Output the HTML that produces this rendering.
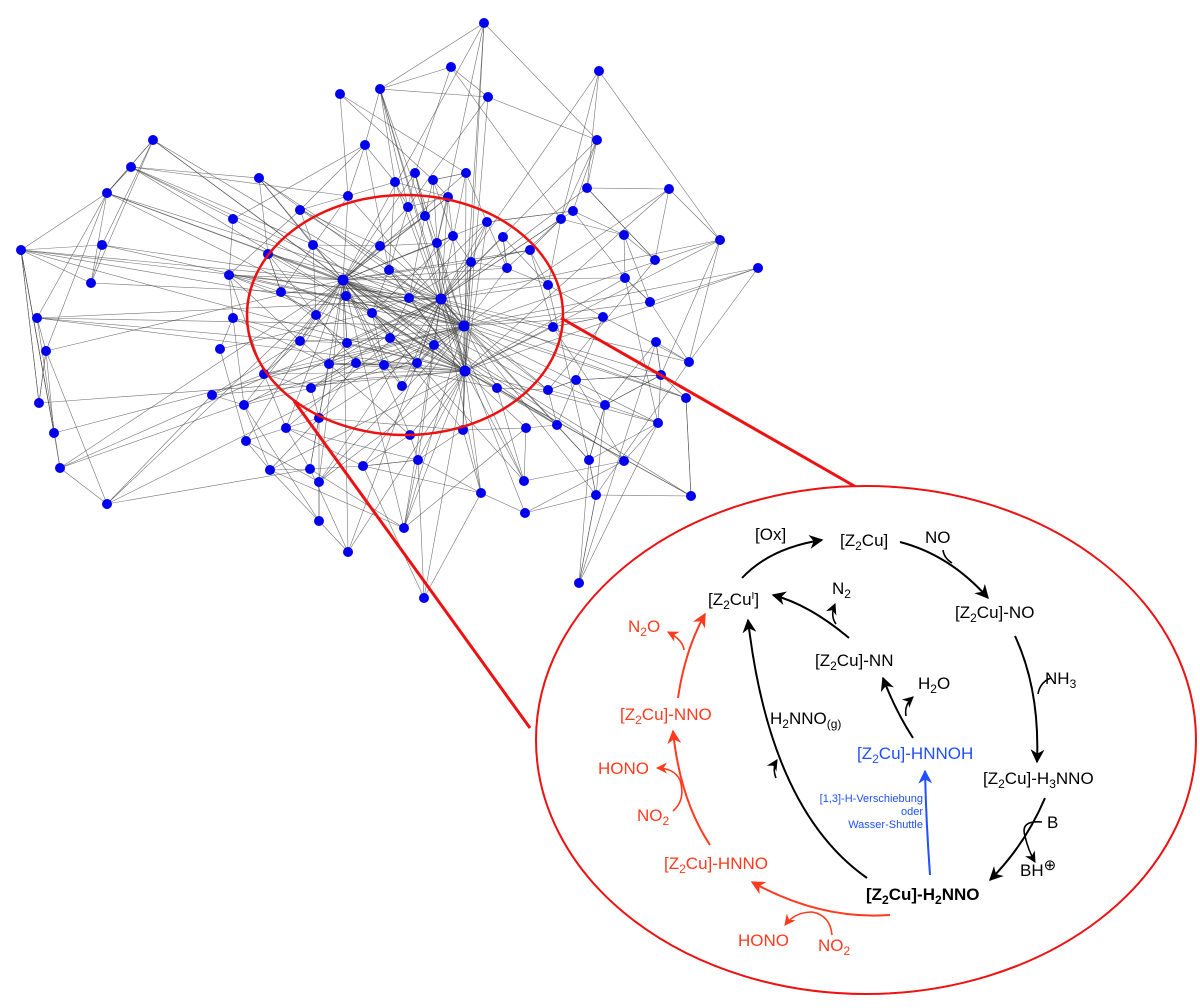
<!DOCTYPE html>
<html><head><meta charset="utf-8"><style>
html,body{margin:0;padding:0;background:#fff;width:1200px;height:1008px;overflow:hidden}
svg{display:block}
text{font-family:"Liberation Sans",Arial,sans-serif}
</style></head><body>
<svg id="s" width="1200" height="1008" viewBox="0 0 1200 1008" xmlns="http://www.w3.org/2000/svg">
<defs>
<marker id="ak" viewBox="0 0 10 10" refX="9" refY="5" markerWidth="7" markerHeight="7" orient="auto"><path d="M0,0 L10,5 L0,10 L3,5z" fill="#000"/></marker>
<marker id="ar" viewBox="0 0 10 10" refX="9" refY="5" markerWidth="7" markerHeight="7" orient="auto"><path d="M0,0 L10,5 L0,10 L3,5z" fill="#ff3b1f"/></marker>
<marker id="ab" viewBox="0 0 10 10" refX="9" refY="5" markerWidth="7" markerHeight="7" orient="auto"><path d="M0,0 L10,5 L0,10 L3,5z" fill="#1f4fff"/></marker>
</defs>
<g id="edges" stroke="#444" stroke-width="0.6" stroke-opacity="0.75"></g>
<g id="nodes" fill="#0000ee"></g>
<ellipse cx="405" cy="315" rx="158" ry="120" fill="none" stroke="#ee1111" stroke-width="2.5"/>
<line x1="561" y1="318" x2="856" y2="487" stroke="#ee1111" stroke-width="3"/>
<line x1="294" y1="401" x2="530" y2="728" stroke="#ee1111" stroke-width="3"/>
<ellipse cx="866" cy="740" rx="330" ry="254" fill="#fff" stroke="#ee1111" stroke-width="2"/>

<g fill="none" stroke="#000" stroke-width="2">
<path d="M742,578 Q770,548 822,540" marker-end="url(#ak)"/>
<path d="M900,542 Q950,555 988,598" marker-end="url(#ak)"/>
<path d="M943,550 Q944,558 952,563" stroke-width="1.6"/>
<path d="M1015,636 Q1040,690 1037,762" marker-end="url(#ak)"/>
<path d="M1051,678 Q1040,682 1038,694" stroke-width="1.6"/>
<path d="M1045,798 Q1025,845 990,880" marker-end="url(#ak)"/>
<path d="M1042,822 Q1020,820 1025,836 Q1028,850 1035,862" stroke-width="1.6" marker-end="url(#ak)"/>
<path d="M867,878 Q770,810 748,620" marker-end="url(#ak)"/>
<path d="M776,778 Q772,768 777,760" stroke-width="1.6" marker-end="url(#ak)"/>
<path d="M913,738 Q895,710 883,678" marker-end="url(#ak)"/>
<path d="M906,716 Q904,705 913,697" stroke-width="1.6" marker-end="url(#ak)"/>
<path d="M849,638 Q810,605 773,595" marker-end="url(#ak)"/>
<path d="M836,624 Q830,616 835,604" stroke-width="1.6" marker-end="url(#ak)"/>
</g>
<g fill="none" stroke="#1f4fff" stroke-width="2"><path d="M930,875 Q926,820 925,771" marker-end="url(#ab)"/></g>
<g fill="none" stroke="#ff3b1f" stroke-width="2">
<path d="M890,915 Q820,920 752,882" marker-end="url(#ar)"/>
<path d="M832,935 Q830,915 812,912 Q795,912 785,925" stroke-width="1.6" marker-end="url(#ar)"/>
<path d="M710,845 Q680,800 673,731" marker-end="url(#ar)"/>
<path d="M673,811 Q686,800 680,780 Q674,768 657,768" stroke-width="1.6" marker-end="url(#ar)"/>
<path d="M678,698 Q685,650 705,614" marker-end="url(#ar)"/>
<path d="M684,650 Q683,640 668,632" stroke-width="1.6" marker-end="url(#ar)"/>
</g>

<g fill="#000" font-size="17">
<text x="755" y="540">[Ox]</text>
<text x="840" y="546">[Z<tspan font-size="12" dy="4">2</tspan><tspan dy="-4">Cu]</tspan></text>
<text x="925" y="543">NO</text>
<text x="708" y="605">[Z<tspan font-size="12" dy="4">2</tspan><tspan dy="-4">Cu</tspan><tspan font-size="10" dy="-6">I</tspan><tspan dy="6">]</tspan></text>
<text x="832" y="594">N<tspan font-size="12" dy="4">2</tspan></text>
<text x="955" y="618">[Z<tspan font-size="12" dy="4">2</tspan><tspan dy="-4">Cu]-NO</tspan></text>
<text x="815" y="666">[Z<tspan font-size="12" dy="4">2</tspan><tspan dy="-4">Cu]-NN</tspan></text>
<text x="1045" y="684">NH<tspan font-size="12" dy="4">3</tspan></text>
<text x="918" y="689">H<tspan font-size="12" dy="4">2</tspan><tspan dy="-4">O</tspan></text>
<text x="770" y="724">H<tspan font-size="12" dy="4">2</tspan><tspan dy="-4">NNO</tspan><tspan font-size="12" dy="4">(g)</tspan></text>
<text x="983" y="784">[Z<tspan font-size="12" dy="4">2</tspan><tspan dy="-4">Cu]-H</tspan><tspan font-size="12" dy="4">3</tspan><tspan dy="-4">NNO</tspan></text>
<text x="1047" y="828">B</text>
<text x="1020" y="876">BH<tspan font-size="15" dy="-6">⊕</tspan></text>
<text x="866" y="900" font-weight="bold">[Z<tspan font-size="12" dy="4">2</tspan><tspan dy="-4">Cu]-H</tspan><tspan font-size="12" dy="4">2</tspan><tspan dy="-4">NNO</tspan></text>
</g>
<g fill="#1f4fff" font-size="17">
<text x="857" y="759">[Z<tspan font-size="12" dy="4">2</tspan><tspan dy="-4">Cu]-HNNOH</tspan></text>
<text x="923" y="802" font-size="11" text-anchor="end">[1,3]-H-Verschiebung</text>
<text x="923" y="815" font-size="11" text-anchor="end">oder</text>
<text x="923" y="828" font-size="11" text-anchor="end">Wasser-Shuttle</text>
</g>
<g fill="#ff3b1f" font-size="17">
<text x="628" y="632">N<tspan font-size="12" dy="4">2</tspan><tspan dy="-4">O</tspan></text>
<text x="620" y="720">[Z<tspan font-size="12" dy="4">2</tspan><tspan dy="-4">Cu]-NNO</tspan></text>
<text x="598" y="774">HONO</text>
<text x="637" y="821">NO<tspan font-size="12" dy="4">2</tspan></text>
<text x="664" y="869">[Z<tspan font-size="12" dy="4">2</tspan><tspan dy="-4">Cu]-HNNO</tspan></text>
<text x="738" y="946">HONO</text>
<text x="818" y="951">NO<tspan font-size="12" dy="4">2</tspan></text>
</g>
</svg>
<script>
var N=[[484,23],[451,67],[599,71],[340,94],[380,89],[488,97],[153,140],[131,167],[597,140],[365,145],[259,178],[107,193],[415,173],[395,182],[433,180],[466,173],[348,196],[448,197],[669,189],[587,188],[408,207],[300,210],[233,219],[425,216],[453,236],[487,222],[561,219],[573,211],[21,250],[102,245],[268,254],[313,245],[380,246],[437,243],[503,237],[530,250],[624,235],[720,240],[758,268],[655,260],[625,278],[91,283],[229,275],[343,280],[389,270],[441,299],[471,262],[507,268],[548,285],[281,292],[346,296],[409,298],[37,318],[233,318],[316,315],[372,313],[464,326],[650,302],[553,327],[603,317],[46,351],[220,349],[300,341],[347,343],[390,338],[434,345],[417,363],[465,371],[356,363],[264,374],[329,364],[384,365],[576,380],[661,375],[689,362],[656,342],[39,403],[212,395],[244,405],[311,388],[402,386],[497,388],[548,390],[686,398],[605,405],[54,433],[286,428],[319,418],[463,430],[526,428],[557,425],[658,423],[246,441],[410,435],[60,468],[270,470],[310,469],[363,466],[418,460],[589,460],[624,461],[107,504],[319,482],[481,493],[524,481],[596,495],[691,496],[319,521],[404,528],[525,513],[348,552],[579,583],[424,598]];
var H=[43,45,56,67];
var seed=7;function r(){seed=(seed*16807)%2147483647;return seed/2147483647;}
var E=document.getElementById('edges'),G=document.getElementById('nodes'),ns='http://www.w3.org/2000/svg';
function L(a,b){var l=document.createElementNS(ns,'line');l.setAttribute('x1',N[a][0]);l.setAttribute('y1',N[a][1]);l.setAttribute('x2',N[b][0]);l.setAttribute('y2',N[b][1]);E.appendChild(l);}
for(var i=0;i<N.length;i++){
 for(var h=0;h<4;h++){if(H[h]!=i&&r()<0.42)L(i,H[h]);}
 var d=[];for(var j=0;j<N.length;j++){if(j!=i){var dx=N[i][0]-N[j][0],dy=N[i][1]-N[j][1];d.push([dx*dx+dy*dy,j]);}}
 d.sort(function(a,b){return a[0]-b[0]});
 L(i,d[Math.floor(r()*3)][1]);L(i,d[3+Math.floor(r()*6)][1]);
 if(r()<0.6)L(i,d[6+Math.floor(r()*20)][1]);
}
for(i=0;i<N.length;i++){var c=document.createElementNS(ns,'circle');c.setAttribute('cx',N[i][0]);c.setAttribute('cy',N[i][1]);c.setAttribute('r',H.indexOf(i)>=0?5.5:5);G.appendChild(c);}
</script>
</body></html>
